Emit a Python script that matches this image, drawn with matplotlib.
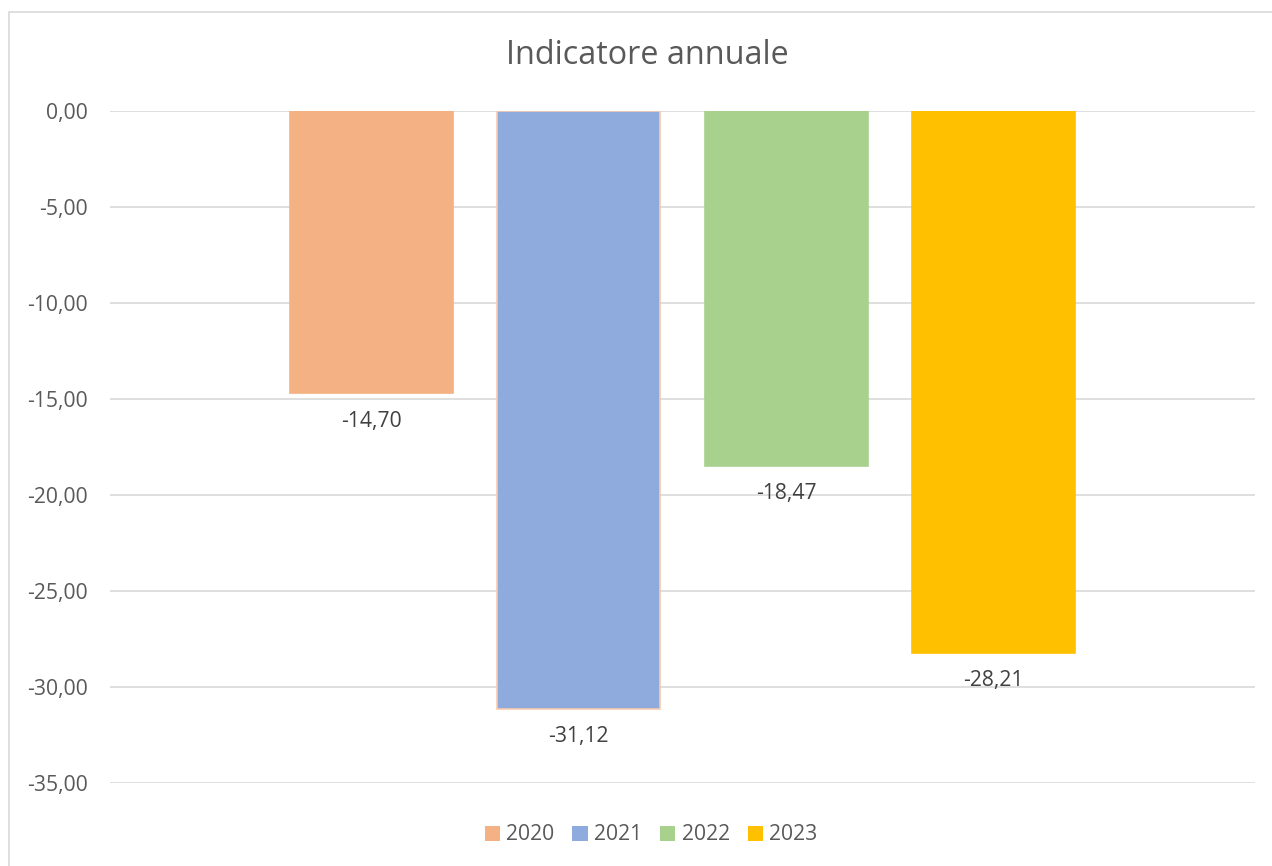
import matplotlib
matplotlib.use("Agg")
import matplotlib.pyplot as plt
from matplotlib.patches import Rectangle, Patch

years = ["2020", "2021", "2022", "2023"]
values = [-14.70, -31.12, -18.47, -28.21]
colors = ["#F4B183", "#8FAADC", "#A9D18E", "#FFC000"]
edges = ["#F4B183", "#F8CBAD", "#A9D18E", "#FFC000"]
yticks = [0, -5, -10, -15, -20, -25, -30, -35]
title = "Indicatore annuale"

plt.rcParams['font.family'] = ['Open Sans', 'DejaVu Sans']
W, H = 1272, 866
fig = plt.figure(figsize=(W / 100, H / 100), dpi=100)
fig.patches.append(Rectangle((9 / W, -0.05), 1.0, 1.05 - 12 / H, transform=fig.transFigure,
                             fill=False, edgecolor="#d9d9d9", linewidth=1.2))

ax = fig.add_axes([110 / W, (H - 783) / H, (1255 - 110) / W, 672 / H])
ax.set_xlim(-0.5, 0.5)
ax.set_ylim(-35, 0)
bw = 163 / 1145
step = 207.5 / 1145
for i, (y, v, c, e) in enumerate(zip(years, values, colors, edges)):
    x = (i - 1.5) * step
    ax.bar(x, v, width=bw, color=c, edgecolor=e, linewidth=1.2, zorder=3)
    ax.annotate(f"{v:.2f}".replace(".", ","), (x, v), xytext=(0, -20), textcoords="offset points",
                ha="center", va="center", fontsize=15.2, color="#404040")

ax.set_yticks(yticks)
ax.set_yticklabels([f"{t:.2f}".replace(".", ",") for t in yticks], fontsize=15.2, color="#595959")
ax.tick_params(axis="y", length=0, pad=16)
ax.set_xticks([])
ax.grid(axis="y", color="#d9d9d9", linewidth=1.2, zorder=0)
for s in ax.spines.values():
    s.set_visible(False)

fig.text(647 / W, 1 - 56 / H, title, ha="center", va="center", fontsize=23.3, color="#595959")

handles = [Patch(facecolor=c, edgecolor="none") for c in colors]
fig.legend(handles, years, loc="center", bbox_to_anchor=(651 / W, 1 - 835 / H), ncol=4, frameon=False,
           fontsize=15.2, labelcolor="#595959", handlelength=0.72, handleheight=0.72, handletextpad=0.3,
           columnspacing=0.85)

fig.savefig("out.png", dpi=100)
